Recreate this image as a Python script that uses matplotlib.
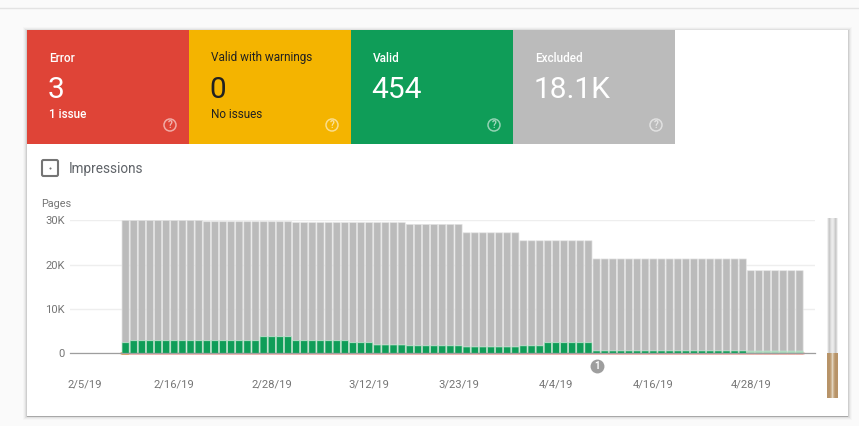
import datetime as dt
import numpy as np
import matplotlib
matplotlib.use("Agg")
import matplotlib.pyplot as plt
import matplotlib.dates as mdates
from matplotlib.patches import Rectangle, FancyBboxPatch, Circle

plt.rcParams['font.family'] = ['Roboto', 'DejaVu Sans']

# ---- data ----
card_titles = ["Error", "Valid with warnings", "Valid", "Excluded"]
card_values = ["3", "0", "454", "18.1K"]
card_notes = ["1 issue", "No issues", "", ""]
card_colors = ["#DF4437", "#F4B400", "#0F9D58", "#BBBBBB"]
card_inks = ["white", "#212121", "white", "white"]

first_day = dt.date(2019, 2, 10)
totals = [30.0]*10 + [29.7]*11 + [29.5]*14 + [29.1]*7 + [27.2]*7 + [25.4]*9 + [21.3]*19 + [18.65]*7
valid = [2.4] + [2.85]*16 + [3.75]*4 + [2.85]*7 + [2.4]*3 + [1.9]*4 + [1.7]*7 + [1.45]*7 + [1.7]*3 + [2.4]*6 + [0.55]*19 + [0.5]*7
error = [0.003]*84
tick_dates = [dt.date(2019, 2, 5), dt.date(2019, 2, 16), dt.date(2019, 2, 28), dt.date(2019, 3, 12),
              dt.date(2019, 3, 23), dt.date(2019, 4, 4), dt.date(2019, 4, 16), dt.date(2019, 4, 28)]
tick_labels = ["2/5/19", "2/16/19", "2/28/19", "3/12/19", "3/23/19", "4/4/19", "4/16/19", "4/28/19"]
y_ticks = [0, 10, 20, 30]
y_labels = ["0", "10K", "20K", "30K"]
annotation_date = dt.date(2019, 4, 9)

W, H = 859, 426
fig = plt.figure(figsize=(W/100, H/100), dpi=100, facecolor="#FAFAFA")

# ---- page, card and header, in pixel coordinates ----
bg = fig.add_axes([0, 0, 1, 1])
bg.set_xlim(0, W); bg.set_ylim(H, 0); bg.axis("off")
bg.plot([0, W], [7.5, 7.5], color="#E3E3E3", lw=1)
for grow, a in [(4, .02), (3, .03), (2, .05), (1, .08)]:
    bg.add_patch(Rectangle((27-grow, 30-grow+1), 821+2*grow, 386+2*grow-1, fc="black", ec="none", alpha=a))
bg.add_patch(Rectangle((27, 415), 821, 2, fc="#A8A8A8", ec="none"))
bg.add_patch(Rectangle((27, 30), 821, 385.5, fc="white", ec="none"))

card_x = [27, 189, 351, 513]
for x, t, v, n, c, ink in zip(card_x, card_titles, card_values, card_notes, card_colors, card_inks):
    weight = "medium" if ink == "white" else "normal"
    bg.add_patch(Rectangle((x, 30), 162, 114, fc=c, ec="none"))
    bg.text(x+22, 58, t, color=ink, fontsize=8.5, va="center", ha="left", fontweight=weight)
    bg.text(x+20.5, 90, v, color=ink, fontsize=21.5, va="center", ha="left")
    if n:
        bg.text(x+22, 115, n, color=ink, fontsize=8.5, va="center", ha="left", fontweight=weight)
    bg.add_patch(Circle((x+143, 125), 6, fc="none", ec="white", lw=1.1, alpha=.55))
    bg.text(x+143, 125.3, "?", color="white", alpha=.6, fontsize=7, va="center", ha="center", fontweight="bold")

bg.add_patch(FancyBboxPatch((42, 160), 16, 16, boxstyle="round,pad=0,rounding_size=1.5",
                            fc="white", ec="#757575", lw=1.5))
bg.plot([50], [168], marker="s", ms=.5, color="#757575")
bg.text(69, 168.5, "Impressions", color="#5F6368", fontsize=9.8, va="center", ha="left")
bg.text(41.5, 204, "Pages", color="#757575", fontsize=7.8, va="center", ha="left")

# scrollbar-like widget
def cyl(top, bot, stops, colors):
    u = np.abs(np.linspace(-1, 1, 31))
    img = np.stack([np.interp(u, stops, [c[k] for c in colors]) for k in range(3)], axis=-1)[None, :, :]
    bg.imshow(img, extent=(827, 838, bot, top), aspect="auto", zorder=3, interpolation="bilinear")
cyl(218, 353, [0, .25, .6, 1], [(.93, .93, .93), (.90, .90, .90), (.76, .76, .76), (.98, .98, .98)])
cyl(353, 398, [0, .2, .5, 1], [(.92, .88, .82), (.80, .70, .56), (.72, .58, .41), (.72, .58, .41)])
bg.set_xlim(0, W); bg.set_ylim(H, 0)

# ---- chart ----
def px2date(p):
    return mdates.date2num(dt.date(2019, 2, 5)) + (p-85)/8.12

ax = fig.add_axes([70/W, 1-353.4/H, (815-70)/W, 133/H], facecolor="none")
days = [first_day + dt.timedelta(days=i) for i in range(len(totals))]
xs = mdates.date2num(days)
totals_a, valid_a, error_a = np.array(totals), np.array(valid), np.array(error)
excluded = totals_a - valid_a - error_a
bw = 0.88
ax.bar(xs, excluded, bottom=valid_a+error_a, width=bw, color="#BBBBBB", edgecolor="#E2E2E2", linewidth=.5, zorder=2, snap=False)
valid_faces = ["#0F9D58"]*77 + ["#A5D6B8"]*7
ax.bar(xs, valid_a, bottom=error_a, width=bw, color=valid_faces, edgecolor="#B5DEC5", linewidth=.5, zorder=3, snap=False)
err_edges = ["#E0A868"] + ["#F2B8B2"]*83
ax.bar(xs, error_a, width=bw, color="#F2B8B2", edgecolor=err_edges, linewidth=1.9, zorder=2.5, snap=False, clip_on=False)

ax.set_xlim(px2date(70), px2date(815))
ax.set_ylim(0, 30)
ax.set_yticks(y_ticks, y_labels)
ax.set_xticks(mdates.date2num(tick_dates), tick_labels)
ax.tick_params(axis="both", length=0, labelsize=8.1, labelcolor="#757575")
ax.tick_params(axis="y", pad=3.6)
ax.tick_params(axis="x", pad=19)
ax.grid(axis="y", color="#EEEEEE", lw=1, zorder=0)
ax.set_axisbelow(True)
for s in ["top", "right", "left"]:
    ax.spines[s].set_visible(False)
ax.spines["bottom"].set_color("#9E9E9E")
ax.spines["bottom"].set_linewidth(.9)
ax.spines["bottom"].set_zorder(5)

ax.plot(mdates.date2num(annotation_date), -2.85, marker="o", ms=10, mfc="#9E9E9E", mec="none", clip_on=False, zorder=6)
ax.text(mdates.date2num(annotation_date), -2.85, "1", color="white", fontsize=7, fontweight="bold", ha="center", va="center", zorder=7)

fig.savefig("out.png", dpi=100, facecolor=fig.get_facecolor())
